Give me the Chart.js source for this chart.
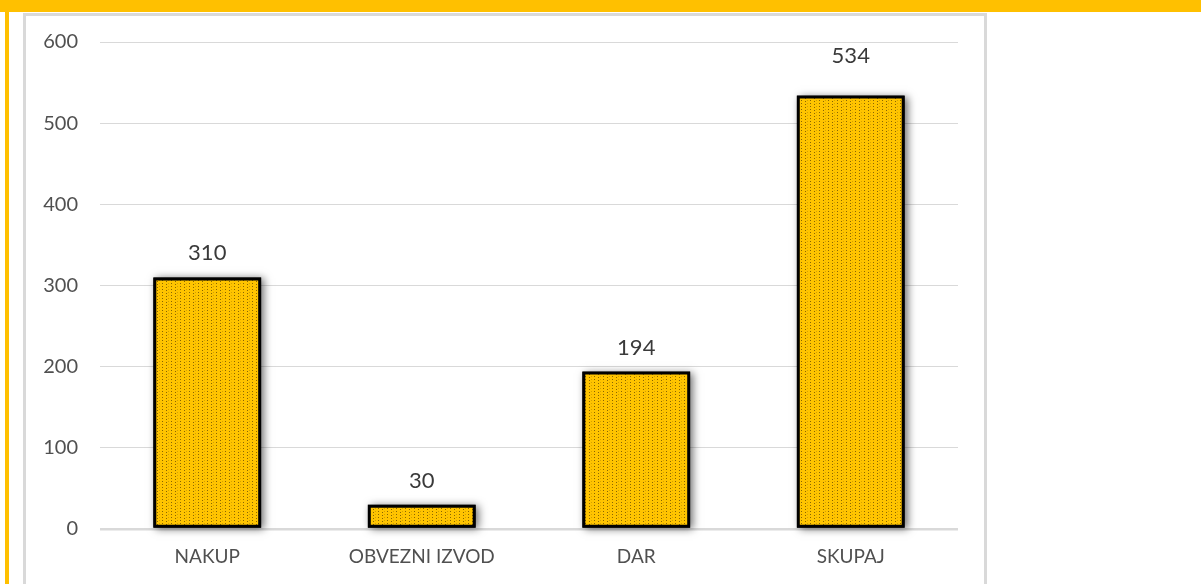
<!DOCTYPE html>
<html>
<head>
<meta charset="utf-8">
<script src="https://cdn.jsdelivr.net/npm/chart.js@4"></script>
<style>
    html, body { margin: 0; padding: 0; background: #ffffff; overflow: hidden; }
    .top-band { position: absolute; left: 0; top: 0; width: 1201px; height: 12px; background: #FFC000; }
    .side-band { position: absolute; left: 5px; top: 0; width: 4px; height: 584px; background: #FFC000; }
    .frame { position: absolute; left: 23px; top: 13px; width: 958px; height: 600px; border: 3px solid #D9D9D9; background: #ffffff; }
    #chart-wrap { position: absolute; left: 0; top: 0; width: 957px; height: 569px; }
</style>
</head>
<body>
<div class="top-band"></div>
<div class="side-band"></div>
<div class="frame">
    <div id="chart-wrap"><canvas id="bar-chart"></canvas></div>
</div>
<script>
// Categories and counts
const categories = ['NAKUP', 'OBVEZNI IZVOD', 'DAR', 'SKUPAJ'];
const counts = [310, 30, 194, 534];
const yTicks = [0, 100, 200, 300, 400, 500, 600];

const FONT = 'Lato, "Open Sans", sans-serif';

// Dotted yellow fill used by the bars
function makeDotPattern() {
    const c = document.createElement('canvas');
    c.width = 9;
    c.height = 6;
    const g = c.getContext('2d');
    g.fillStyle = '#FFC400';
    g.fillRect(0, 0, 9, 6);
    g.fillStyle = 'rgba(60, 40, 0, 0.6)';
    g.fillRect(1, 0, 1, 1);
    g.fillRect(5, 1, 1, 1);
    g.fillRect(1, 3, 1, 1);
    g.fillRect(5, 4, 1, 1);
    g.fillStyle = 'rgba(120, 85, 0, 0.3)';
    g.fillRect(7, 0, 1, 1);
    g.fillRect(7, 3, 1, 1);
    return g.createPattern(c, 'repeat');
}

// Soft drop shadow painted under each bar before the bars themselves
const barShadow = {
    id: 'barShadow',
    beforeDatasetsDraw(chart) {
        const ctx = chart.ctx;
        const meta = chart.getDatasetMeta(0);
        ctx.save();
        ctx.shadowColor = 'rgba(0, 0, 0, 0.55)';
        ctx.shadowBlur = 8;
        ctx.shadowOffsetX = 3;
        ctx.shadowOffsetY = 1;
        ctx.fillStyle = '#000000';
        meta.data.forEach(bar => {
            const half = bar.width / 2;
            ctx.fillRect(bar.x - half, bar.y, bar.width, bar.base - bar.y);
        });
        ctx.restore();
    }
};

// Value written above each bar; the tallest one sits a little higher
const valueLabels = {
    id: 'valueLabels',
    afterDatasetsDraw(chart, args, opts) {
        const ctx = chart.ctx;
        const meta = chart.getDatasetMeta(0);
        const top = Math.max(...counts);
        ctx.save();
        ctx.font = '22px ' + FONT;
        ctx.fillStyle = '#3a3a3a';
        ctx.textAlign = 'center';
        ctx.textBaseline = 'middle';
        meta.data.forEach((bar, i) => {
            const gap = counts[i] === top ? opts.gapTallest : opts.gap;
            ctx.fillText(String(counts[i]), bar.x, bar.y - gap);
        });
        ctx.restore();
    }
};

const ctx = document.getElementById('bar-chart').getContext('2d');
new Chart(ctx, {
    type: 'bar',
    data: {
        labels: categories,
        datasets: [{
            data: counts,
            backgroundColor: makeDotPattern(),
            borderColor: '#000000',
            borderWidth: 3,
            borderSkipped: false,
            categoryPercentage: 1,
            barPercentage: 0.503
        }]
    },
    options: {
        responsive: true,
        maintainAspectRatio: false,
        animation: false,
        layout: {
            padding: { top: 26, right: 25, bottom: 0, left: 0 }
        },
        plugins: {
            legend: { display: false },
            tooltip: { enabled: false },
            valueLabels: { gap: 24, gapTallest: 40 }
        },
        scales: {
            x: {
                grid: { display: false, drawTicks: false },
                border: { display: false },
                ticks: {
                    color: '#505050',
                    padding: 16,
                    font: { family: FONT, size: 19 }
                },
                afterFit(scale) { scale.height = 56; }
            },
            y: {
                min: 0,
                max: 600,
                afterBuildTicks(scale) {
                    scale.ticks = yTicks.map(v => ({ value: v }));
                },
                grid: {
                    color: '#D9D9D9',
                    lineWidth: c => (c.tick && c.tick.value === 0 ? 2.5 : 1),
                    drawTicks: false
                },
                border: { display: false },
                ticks: {
                    color: '#505050',
                    padding: 22,
                    font: { family: FONT, size: 20 }
                },
                afterFit(scale) {
                    scale.width = 74;
                    // label padding would otherwise push the plot area down
                    scale.paddingTop = 0;
                    scale.paddingBottom = 0;
                }
            }
        }
    },
    plugins: [barShadow, valueLabels]
});
</script>
</body>
</html>
